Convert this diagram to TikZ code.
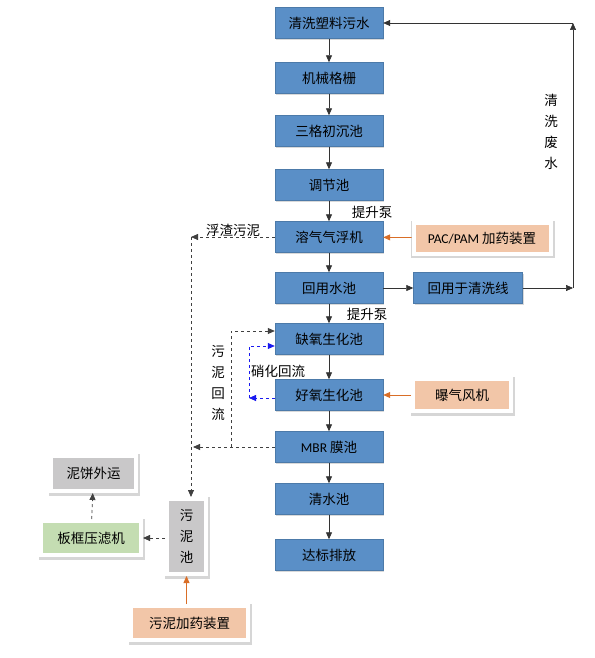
\documentclass[tikz,border=0pt]{standalone}
\usepackage{fontspec}
\setmainfont{Noto Sans CJK SC}
\newfontfamily\latinfont{Carlito}
\usetikzlibrary{arrows.meta,shadows}

\definecolor{boxblue}{HTML}{5A8FC7}
\definecolor{boxpeach}{HTML}{F2C6A8}
\definecolor{boxgreen}{HTML}{C4DDB2}
\definecolor{boxgray}{HTML}{C9C8C9}
\definecolor{feedorange}{HTML}{D96E27}
\definecolor{nitroblue}{HTML}{1A1AF0}

\begin{document}
\begin{tikzpicture}[x=1pt, y=-1pt,
    txt/.style={font=\fontsize{13.5}{21}\selectfont, inner sep=0pt, align=center},
    proc/.style={txt, draw=boxblue!85!black, line width=0.4pt, fill=boxblue,
        minimum width=108pt, minimum height=31pt,
        drop shadow={opacity=0.3, shadow xshift=1.2pt, shadow yshift=-1.5pt}},
    extbox/.style={txt, draw=white, line width=4pt,
        preaction={draw=black!16, fill=black!16, line width=6.5pt,
            transform canvas={xshift=1pt, yshift=-1.5pt}}},
    flow/.style={-{Triangle[length=7pt,width=6pt]}, black!80, line width=0.8pt},
    feed/.style={-{Triangle[length=7pt,width=6pt]}, feedorange, line width=0.8pt},
    dflow/.style={-{Triangle[length=7pt,width=6pt]}, black!75, dashed, line width=0.8pt},
    nflow/.style={-{Triangle[length=7pt,width=6pt]}, nitroblue, dashed, line width=0.8pt}
]
    \useasboundingbox (0,0) rectangle (594,658);

    % Main process column (top to bottom)
    \node[proc] (p1) at (329,23) {清洗塑料污水};
    \node[proc] (p2) at (329,78) {机械格栅};
    \node[proc] (p3) at (329,131) {三格初沉池};
    \node[proc] (p4) at (329,185) {调节池};
    \node[proc] (p5) at (329,237) {溶气气浮机};
    \node[proc] (p6) at (329,288) {回用水池};
    \node[proc] (p7) at (329,339) {缺氧生化池};
    \node[proc] (p8) at (329,395) {好氧生化池};
    \node[proc] (p9) at (329,447) {{\latinfont MBR} 膜池};
    \node[proc] (p10) at (329,499) {清水池};
    \node[proc] (p11) at (329,555) {达标排放};

    \foreach \a/\b in {p1/p2,p2/p3,p3/p4,p4/p5,p5/p6,p6/p7,p7/p8,p8/p9,p9/p10,p10/p11}
        \draw[flow] (\a) -- (\b);

    \node[txt] (lift1) at (372,212) {提升泵};
    \node[txt] (lift2) at (367,314) {提升泵};

    % Dosing and aeration units
    \node[extbox, fill=boxpeach, minimum width=137pt, minimum height=31pt] (pac) at (482,238)
        {{\latinfont PAC/PAM} 加药装置};
    \draw[feed] (pac) -- (p5);
    \node[extbox, fill=boxpeach, minimum width=98pt, minimum height=32pt] (air) at (462,395) {曝气风机};
    \draw[feed] (air) -- (p8);

    % Reuse loop back to the washing line
    \node[proc, minimum width=109pt] (reuse) at (468,288) {回用于清洗线};
    \coordinate (q1) at (573,288);
    \coordinate (q2) at (573,23);
    \draw[flow, line width=0.6pt] (p6) -- (reuse);
    \draw[flow, line width=0.6pt] (reuse) -- (q1);
    \draw[flow, line width=0.6pt] (q1) -- (q2);
    \draw[flow, line width=0.6pt] (q2) -- (p1.east);
    \node[txt] (wastew) at (551,132) {清\\洗\\废\\水};

    % Sludge lines
    \node[extbox, fill=boxgray, minimum width=39pt, minimum height=75pt] (sludge) at (186.5,536.5) {污\\泥\\池};
    \coordinate (c1) at (191,237);
    \draw[dflow] (p5.west) -- (c1);
    \draw[dflow] (c1) -- (c1 |- sludge.north);
    \node[txt] (scum) at (233,230) {浮渣污泥};
    \coordinate (c2) at (193,447);
    \draw[dflow] (p9.west) -- (c2);
    \coordinate (r0) at (231,447);
    \coordinate (r1) at (231,331);
    \draw[dflow] (r0) -- (r1) -- (r1 -| p7.west);
    \node[txt] (sret) at (218,383) {污\\泥\\回\\流};

    % Nitrification return
    \coordinate (n1) at (249,398);
    \coordinate (n2) at (249,346);
    \draw[nflow] (n1 -| p8.west) -- (n1);
    \draw[nflow] (n1) -- (n2) -- (n2 -| p7.west);
    \node[txt] (nret) at (278,371) {硝化回流};

    % Sludge treatment
    \node[extbox, fill=boxgreen, minimum width=100pt, minimum height=34pt] (press) at (91,538) {板框压滤机};
    \node[extbox, fill=boxgray, minimum width=85pt, minimum height=35pt] (cake) at (93.5,473.5) {泥饼外运};
    \node[extbox, fill=boxpeach, minimum width=117pt, minimum height=34pt] (sdose) at (189.5,623) {污泥加药装置};
    \draw[dflow] (sludge.west |- press) -- (press);
    \draw[dflow] (press) -- (cake);
    \draw[feed] (sdose.north -| sludge) -- (sludge);
\end{tikzpicture}
\end{document}
